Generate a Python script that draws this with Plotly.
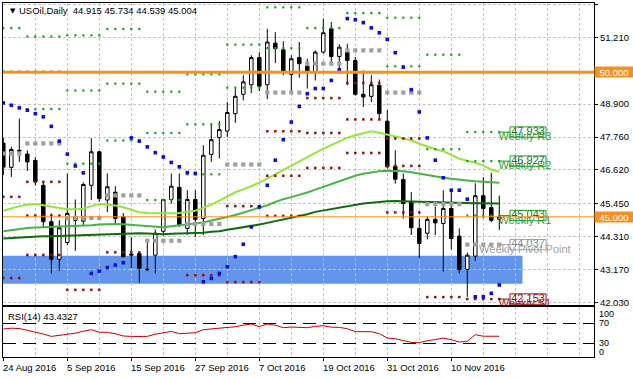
import plotly.graph_objects as go

# ---------------- data ----------------
symbol_title = "USOil,Daily"
bar_index = list(range(63))
date_ticks = [0, 8, 16, 24, 32, 40, 48, 56]
date_labels = ["24 Aug 2016", "5 Sep 2016", "15 Sep 2016", "27 Sep 2016",
               "7 Oct 2016", "19 Oct 2016", "31 Oct 2016", "10 Nov 2016"]

open_ = [47.55, 46.71, 47.30, 47.17, 46.95, 46.09, 44.83, 43.53, 44.11, 45.00,
         44.85, 46.09, 47.25, 45.58, 45.85, 45.00, 43.71, 43.73, 43.19, 43.67,
         44.50, 45.60, 46.02, 44.60, 45.60, 44.94, 47.16, 47.74, 47.97, 48.57,
         49.24, 49.57, 50.51, 49.57, 51.01, 50.78, 49.93, 50.51, 50.21, 50.01,
         50.70, 51.51, 50.55, 50.70, 50.41, 49.24, 49.17, 49.55, 48.31, 46.75,
         46.29, 45.52, 44.60, 44.43, 44.91, 44.77, 45.29, 44.33, 43.18, 43.64,
         45.73, 45.32, 44.915]
high = [47.73, 47.42, 48.40, 47.30, 47.07, 46.21, 45.12, 44.88, 46.50, 45.60,
        46.19, 47.72, 47.28, 46.50, 46.06, 45.13, 44.30, 43.76, 44.10, 44.56,
        45.62, 46.50, 46.50, 45.92, 45.92, 47.48, 48.23, 48.32, 48.97, 49.44,
        49.90, 50.59, 50.70, 51.51, 51.39, 51.08, 50.59, 51.05, 50.47, 50.76,
        51.86, 51.74, 50.97, 50.99, 50.53, 50.07, 49.90, 49.75, 48.69, 47.30,
        46.50, 45.86, 44.94, 45.02, 45.35, 45.92, 45.92, 44.60, 43.76, 46.16,
        46.37, 46.52, 45.734]
low = [46.44, 46.38, 46.90, 46.59, 46.09, 44.65, 43.04, 43.13, 44.02, 43.82,
       44.70, 45.58, 45.52, 45.16, 44.78, 43.58, 43.23, 42.72, 43.13, 43.04,
       44.35, 45.46, 44.65, 44.37, 44.30, 44.37, 46.90, 47.02, 47.76, 48.25,
       49.03, 49.28, 49.35, 49.07, 50.32, 49.90, 49.28, 49.82, 49.44, 49.72,
       50.65, 50.36, 49.95, 49.55, 49.20, 48.80, 48.97, 48.34, 46.67, 46.15,
       44.94, 44.37, 43.56, 44.22, 44.37, 43.10, 43.87, 43.04, 42.23, 43.47,
       44.95, 44.81, 44.539]
close = [46.72, 47.33, 47.28, 46.90, 46.21, 44.83, 43.53, 44.62, 45.12, 44.88,
         46.12, 47.25, 45.63, 46.04, 44.94, 43.62, 43.68, 43.22, 43.17, 44.43,
         45.60, 46.06, 44.71, 45.60, 44.91, 47.13, 47.67, 48.02, 48.61, 49.17,
         49.67, 50.51, 49.52, 51.05, 50.82, 50.01, 50.47, 50.30, 50.01, 50.70,
         51.37, 50.55, 50.87, 50.41, 49.24, 49.15, 49.57, 48.57, 46.73, 46.30,
         45.46, 44.62, 44.08, 44.91, 44.79, 45.29, 44.25, 43.18, 43.67, 45.73,
         45.29, 44.88, 45.004]

ma_fast = [45.21, 45.30, 45.37, 45.42, 45.44, 45.40, 45.35, 45.30, 45.26, 45.26,
           45.28, 45.37, 45.44, 45.42, 45.39, 45.33, 45.25, 45.16, 45.13, 45.12,
           45.12, 45.12, 45.13, 45.16, 45.21, 45.31, 45.42, 45.56, 45.70, 45.85,
           45.95, 46.06, 46.18, 46.32, 46.47, 46.61, 46.75, 46.91, 47.06, 47.22,
           47.36, 47.48, 47.60, 47.74, 47.82, 47.89, 47.96, 47.91, 47.84, 47.79,
           47.72, 47.65, 47.53, 47.43, 47.34, 47.27, 47.15, 47.01, 46.94, 46.87,
           46.77, 46.63, 46.56]
ma_mid = [44.50, 44.54, 44.57, 44.61, 44.63, 44.64, 44.64, 44.66, 44.67, 44.68,
          44.69, 44.71, 44.73, 44.75, 44.75, 44.74, 44.72, 44.69, 44.66, 44.64,
          44.64, 44.67, 44.70, 44.73, 44.76, 44.80, 44.87, 44.92, 44.99, 45.06,
          45.14, 45.23, 45.32, 45.40, 45.51, 45.61, 45.68, 45.75, 45.84, 45.94,
          46.04, 46.13, 46.23, 46.34, 46.42, 46.49, 46.54, 46.58, 46.59, 46.59,
          46.58, 46.54, 46.49, 46.44, 46.39, 46.35, 46.32, 46.28, 46.26, 46.23,
          46.21, 46.20, 46.18]
ma_slow = [44.25, 44.27, 44.29, 44.30, 44.31, 44.33, 44.33, 44.34, 44.35, 44.36,
           44.37, 44.38, 44.39, 44.41, 44.42, 44.43, 44.43, 44.43, 44.42, 44.40,
           44.40, 44.41, 44.42, 44.43, 44.43, 44.45, 44.48, 44.50, 44.55, 44.59,
           44.64, 44.68, 44.73, 44.79, 44.85, 44.90, 44.96, 45.01, 45.09, 45.17,
           45.22, 45.27, 45.32, 45.36, 45.41, 45.46, 45.49, 45.52, 45.54, 45.55,
           45.55, 45.53, 45.52, 45.51, 45.50, 45.49, 45.48, 45.48, 45.48, 45.47,
           45.47, 45.47, 45.46]
sar = [48.94, 48.86, 48.77, 48.69, 48.57, 48.46, 48.13, 47.62, 47.17, 46.76,
       46.52, 43.04, 43.12, 43.24, 43.33, 43.41, 47.73, 47.62, 47.42, 47.22,
       47.07, 46.88, 46.73, 46.53, 46.50, 42.75, 42.87, 43.04, 43.27, 43.62,
       44.05, 44.65, 45.34, 46.09, 46.96, 47.67, 48.28, 48.82, 49.26, 49.44,
       49.44, 49.72, 50.09, 51.86, 51.82, 51.72, 51.54, 51.37, 51.14, 50.68,
       50.18, 49.40, 48.63, 47.73, 46.96, 46.35, 45.92, 45.92, 45.61, 42.23,
       42.23, 42.35, 42.64]
rsi = [58.0, 59.6, 59.0, 55.6, 52.0, 48.0, 43.2, 45.6, 48.0, 49.6,
       53.6, 56.6, 51.6, 51.2, 48.6, 44.0, 43.2, 43.2, 43.2, 47.6,
       50.6, 53.2, 48.6, 50.0, 50.6, 56.6, 58.0, 59.6, 61.2, 62.6,
       65.6, 68.0, 62.6, 68.0, 65.6, 60.6, 62.0, 61.6, 60.6, 63.2,
       64.6, 61.6, 61.2, 58.6, 52.6, 52.6, 52.6, 48.6, 40.0, 38.6,
       35.6, 31.2, 30.6, 34.6, 36.6, 40.0, 36.6, 32.0, 33.6, 46.6,
       43.6, 43.2, 43.4327]
rsi_period = 14

# weekly pivot levels (one value per week, None = outside the visible range)
week_start = [0, 3, 8, 13, 18, 23, 28, 33, 38, 43, 48, 53, 58]
week_end = [2, 7, 12, 17, 22, 27, 32, 37, 42, 47, 52, 57, 62]
piv_r3 = [None, 51.24, 51.28, 51.50, 49.33, 49.93, None, None, None, None, None, None, 47.933]
piv_r2 = [51.53, 50.03, 49.37, 49.61, 47.90, 48.20, 50.96, 52.25, None, None, 51.89, 50.61, 46.927]
piv_r1 = [50.03, 48.73, 46.84, 47.64, 45.58, 46.47, 49.47, 50.84, 51.53, 52.05, 50.21, 47.34, 45.043]
piv_pp = [47.19, 47.54, 44.96, 45.74, 44.17, 44.75, 46.81, 49.30, 50.30, 50.76, 49.30, 45.44, 44.037]
piv_s1 = [45.69, 46.21, 42.47, 43.77, None, 42.98, 45.37, 47.96, 49.11, 49.63, 47.71, 42.22, 42.153]
piv_s2 = [42.88, 45.04, None, None, None, None, 42.74, 46.42, 47.90, 48.37, 46.76, None, None]
piv_s3 = [None, 43.68, None, None, None, None, None, 45.03, 46.69, 47.21, 45.15, None, None]

label_names = ["Weekly R3", "Weekly R2", "Weekly R1", "Weekly Pivot Point", "Weekly S1"]
label_values = [47.933, 46.927, 45.043, 44.037, 42.153]
label_kinds = ["R", "R", "R", "P", "S"]

zone_low, zone_high = 42.68, 43.65
zone_end_bar = 64.9
level_lines = [50.0, 45.0]
level_widths = [3, 1]

price_ticks = [52.35, 51.21, 48.90, 47.76, 46.62, 45.45, 44.31, 43.17, 42.03]
price_ticktext = ["52.350", "51.210", "48.900", "47.760", "46.620", "45.450", "44.310", "43.170", "42.030"]
rsi_levels = [70, 30]
rsi_scale = [100, 70, 30, 0]

# ---------------- styling / layout geometry ----------------
W, H = 633, 379
PL, PR, PT, PB = 3, 594, 3, 357          # plot area in pixels
MAIN_BOTTOM, RSI_TOP = 305, 307
FONT = "Liberation Sans"
GRID = "#c4c4c4"
ORANGE = "#f7901e"
COL = {"R": "#1ea01e", "P": "#a0a0a0", "S": "#901010"}
TXT = {"R": "#3a9a3a", "P": "#a0a0a0", "S": "#b01010"}
BOXTXT = {"R": "#1c6e1c", "P": "#8a8a8a", "S": "#a00000"}


def px_x(px):
    return (px - PL) / (PR - PL)


def px_y(py):
    return (PB - py) / (PB - PT)


X_RANGE = [-0.04, 73.84]
Y_RANGE = [41.947, 52.40]
px_per_price = (MAIN_BOTTOM - PT) / (Y_RANGE[1] - Y_RANGE[0])

fig = go.Figure()

fig.add_trace(go.Candlestick(
    x=bar_index, open=open_, high=high, low=low, close=close,
    increasing=dict(line=dict(color="black", width=1), fillcolor="white"),
    decreasing=dict(line=dict(color="black", width=1), fillcolor="black"),
    whiskerwidth=0, hoverinfo="skip", xaxis="x", yaxis="y"))

for vals, color in [(ma_slow, "#0b6e0b"), (ma_mid, "#45b548"), (ma_fast, "#95e63a")]:
    fig.add_trace(go.Scatter(x=bar_index, y=vals, mode="lines",
                             line=dict(color=color, width=2), hoverinfo="skip",
                             xaxis="x", yaxis="y"))

# weekly pivot dots
for levels, kind, size in [(piv_r3, "R", 2.2), (piv_r2, "R", 2.2), (piv_r1, "R", 2.2),
                           (piv_pp, "P", 4.2), (piv_s1, "S", 2.5), (piv_s2, "S", 2.5),
                           (piv_s3, "S", 2.5)]:
    xs, ys = [], []
    for ws, we, v in zip(week_start, week_end, levels):
        if v is None:
            continue
        for b in range(ws, we + 1):
            xs.append(b)
            ys.append(v)
    fig.add_trace(go.Scatter(x=xs, y=ys, mode="markers",
                             marker=dict(symbol="square", size=size, color=COL[kind],
                                         line=dict(width=0)),
                             hoverinfo="skip", xaxis="x", yaxis="y"))

# parabolic SAR
fig.add_trace(go.Scatter(x=bar_index, y=sar, mode="markers",
                         marker=dict(symbol="square", size=3.6, color="#1010cc",
                                     line=dict(width=0)),
                         hoverinfo="skip", xaxis="x", yaxis="y"))

# pivot label texts (clipped at the panel edge)
last_bar = bar_index[-1]
label_center_bar = last_bar + 3.2
box_center_bar = last_bar + 3.6
fig.add_trace(go.Scatter(x=[label_center_bar] * len(label_values), y=label_values,
                         mode="text", text=label_names, textposition="bottom center",
                         textfont=dict(family=FONT, size=11,
                                       color=[TXT[k] for k in label_kinds]),
                         hoverinfo="skip", cliponaxis=True, xaxis="x", yaxis="y"))
fig.add_trace(go.Scatter(x=[box_center_bar] * len(label_values), y=label_values,
                         mode="text", text=[f"{v:.3f}" for v in label_values],
                         textposition="middle center",
                         textfont=dict(family=FONT, size=11,
                                       color=[BOXTXT[k] for k in label_kinds]),
                         hoverinfo="skip", cliponaxis=True, xaxis="x", yaxis="y"))

# RSI
fig.add_trace(go.Scatter(x=bar_index, y=rsi, mode="lines",
                         line=dict(color="#c80000", width=1), hoverinfo="skip",
                         xaxis="x2", yaxis="y2"))

shapes = []
shapes.append(dict(type="rect", xref="x", yref="y", x0=-1, x1=zone_end_bar,
                   y0=zone_low, y1=zone_high, fillcolor="#6495ED",
                   line=dict(width=0), layer="below"))
for lv, lw in zip(level_lines, level_widths):
    shapes.append(dict(type="line", xref="paper", yref="y", x0=0, x1=1, y0=lv, y1=lv,
                       line=dict(color=ORANGE, width=lw), layer="above"))

half_h = 5.2 / px_per_price
box_x0 = last_bar + 1.34
box_x1 = last_bar + 5.84
for v, k in zip(label_values, label_kinds):
    shapes.append(dict(type="line", xref="x", yref="y", x0=last_bar, x1=box_x0,
                       y0=v, y1=v, line=dict(color=COL[k], width=1), layer="above"))
    shapes.append(dict(type="rect", xref="x", yref="y", x0=box_x0, x1=box_x1,
                       y0=v - half_h, y1=v + half_h, fillcolor="rgba(255,255,255,0)",
                       line=dict(color=COL[k], width=1), layer="above"))

annotations = []
annotations.append(dict(xref="paper", yref="paper", x=px_x(7.5), y=px_y(10.5),
                        text="▼", showarrow=False, xanchor="left", yanchor="middle",
                        font=dict(family="DejaVu Sans", size=7, color="black")))
title_text = (f"{symbol_title}\u00a0\u00a0{open_[-1]:.3f} {high[-1]:.3f} "
              f"{low[-1]:.3f} {close[-1]:.3f}")
annotations.append(dict(xref="paper", yref="paper", x=px_x(17), y=px_y(10.5),
                        text=title_text, showarrow=False, xanchor="left",
                        yanchor="middle", font=dict(family=FONT, size=9.5, color="black")))
annotations.append(dict(xref="paper", yref="paper", x=px_x(5.5), y=px_y(316.5),
                        text=f"RSI({rsi_period}) {rsi[-1]:.4f}", showarrow=False,
                        xanchor="left", yanchor="middle",
                        font=dict(family=FONT, size=9.5, color="black")))
for b, lab in zip(date_ticks, date_labels):
    annotations.append(dict(xref="x2", yref="paper", x=b, y=px_y(367.5), text=lab,
                            showarrow=False, xanchor="left", yanchor="middle",
                            xshift=-2, font=dict(family=FONT, size=9.5, color="black")))
rsi_label_py = {100: 314, 70: 323.3, 30: 343.3, 0: 351.7}
for r in rsi_scale:
    annotations.append(dict(xref="paper", yref="paper", x=px_x(596.5),
                            y=px_y(rsi_label_py[r]), text=str(r), showarrow=False,
                            xanchor="left", yanchor="middle",
                            font=dict(family=FONT, size=9, color="black")))
for lv in level_lines:
    annotations.append(dict(xref="paper", yref="y", x=px_x(593.5), y=lv,
                            text=f"{lv:.3f}", showarrow=False, xanchor="left",
                            yanchor="middle", bgcolor=ORANGE, borderpad=0,
                            width=38, height=10,
                            font=dict(family=FONT, size=9.5, color="white")))

grid_common = dict(showgrid=True, gridcolor=GRID, gridwidth=1, griddash="3px,2px",
                   zeroline=False, showline=True, mirror=True, linecolor="black",
                   linewidth=1)
minor_grid = dict(tickmode="linear", tick0=0, dtick=4, showgrid=True,
                  gridcolor=GRID, griddash="3px,2px", ticks="")

fig.update_layout(
    width=W, height=H,
    margin=dict(l=PL, r=W - PR, t=PT, b=H - PB, pad=0),
    paper_bgcolor="white", plot_bgcolor="white", showlegend=False,
    font=dict(family=FONT, size=9.5, color="black"),
    boxgap=0.38,
    xaxis=dict(domain=[0, 1], range=X_RANGE, anchor="y", tickmode="array",
               tickvals=date_ticks, showticklabels=False, ticks="",
               rangeslider=dict(visible=False), minor=minor_grid, **grid_common),
    yaxis=dict(domain=[px_y(MAIN_BOTTOM), 1], range=Y_RANGE, anchor="x",
               side="right", tickmode="array", tickvals=price_ticks,
               ticktext=price_ticktext, ticks="outside", ticklen=3,
               tickcolor="black", automargin=False,
               tickfont=dict(family=FONT, size=9.5, color="black"), **grid_common),
    xaxis2=dict(domain=[0, 1], range=X_RANGE, anchor="y2", tickmode="array",
                tickvals=date_ticks, showticklabels=False, ticks="outside",
                ticklen=3, tickcolor="black", rangeslider=dict(visible=False),
                minor=minor_grid, **grid_common),
    yaxis2=dict(domain=[0, px_y(RSI_TOP)], range=[2, 102], anchor="x2",
                side="right", tickmode="array", tickvals=rsi_levels,
                showticklabels=False, ticks="", showgrid=True, gridcolor="black",
                gridwidth=1, griddash="13px,7px", zeroline=False, showline=True,
                mirror=True, linecolor="black", linewidth=1, automargin=False),
    shapes=shapes,
    annotations=annotations,
)

fig.write_html("out.html", config={"displayModeBar": False},
               post_script="document.body.style.margin='0';document.body.style.padding='0';document.body.style.overflow='hidden';")
